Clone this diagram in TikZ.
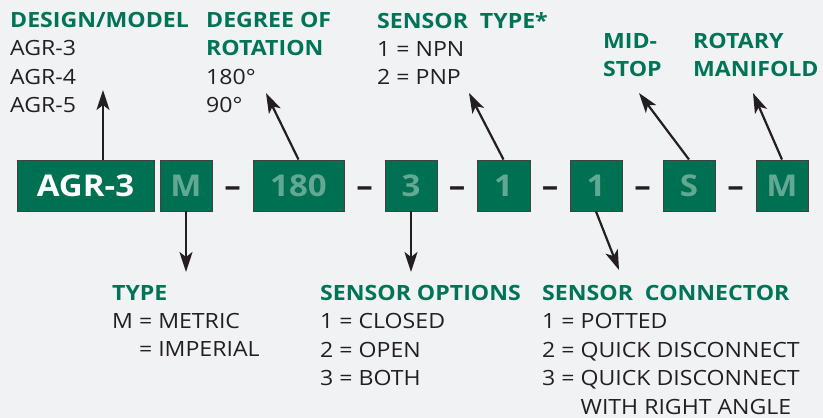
\documentclass[tikz,border=0pt]{standalone}
\usepackage{fontspec}
\setmainfont{Open Sans}[FakeStretch=1.1]
\usetikzlibrary{arrows.meta}
\definecolor{bggray}{RGB}{241,242,244}
\definecolor{agrgreen}{RGB}{0,112,82}
\definecolor{headgreen}{RGB}{0,116,86}
\definecolor{codegreen}{RGB}{98,168,148}
\definecolor{inkblack}{RGB}{35,31,32}
\begin{document}
\begin{tikzpicture}[x=1pt,y=-1pt,
  codebox/.style={draw=inkblack!85, line width=0.9pt, fill=agrgreen, minimum height=51pt,
    inner sep=0pt, text=codegreen, font=\fontsize{30}{30}\selectfont\bfseries},
  dashmark/.style={inner sep=0pt, anchor=base, text=inkblack, font=\fontsize{30}{30}\selectfont\bfseries},
  infoblock/.style={anchor=north west, inner sep=0pt, align=left, text=inkblack,
    font=\fontsize{21}{28.4}\selectfont},
  pointer/.style={-{Stealth[length=20pt, width=13pt, inset=5pt]}, line width=2.2pt, draw=inkblack}]
\useasboundingbox[fill=bggray] (0,0) rectangle (823,418);
\node[codebox, minimum width=137pt, text=white] (agr) at (85.5,185.5) {AGR-3};
\node[codebox, minimum width=52pt] (typecode) at (186,185.5) {M};
\node[codebox, minimum width=91pt] (rotcode) at (298.5,185.5) {180};
\node[codebox, minimum width=52pt] (optcode) at (411,185.5) {3};
\node[codebox, minimum width=53pt] (sensecode) at (503.5,185.5) {1};
\node[codebox, minimum width=52pt] (conncode) at (596,185.5) {1};
\node[codebox, minimum width=52pt] (stopcode) at (689,185.5) {S};
\node[codebox, minimum width=52pt] (mancode) at (782,185.5) {M};
\foreach \x/\n in {232.5/1,364.5/2,457/3,550/4,642.5/5,735.5/6}
  \node[dashmark] (dash\n) at (\x,196) {–};
\node[infoblock] (design) at (10,12)
  {{\color{headgreen}\bfseries DESIGN/MODEL}\\AGR-3\\AGR-4\\AGR-5};
\node[infoblock] (degree) at (206,12)
  {{\color{headgreen}\bfseries DEGREE OF}\\{\color{headgreen}\bfseries ROTATION}\\180°\\90°};
\node[infoblock] (sensetype) at (377,12)
  {{\color{headgreen}\bfseries SENSOR\ \ TYPE*}\\1 = NPN\\2 = PNP};
\node[infoblock, text=headgreen, font=\fontsize{21}{28.4}\selectfont\bfseries] (midstop) at (603,33)
  {MID-\\STOP};
\node[infoblock, text=headgreen, font=\fontsize{21}{28.4}\selectfont\bfseries] (manifold) at (693,33)
  {ROTARY\\MANIFOLD};
\node[infoblock] (typeinfo) at (112,285)
  {{\color{headgreen}\bfseries TYPE}\\M = METRIC\\\phantom{M} = IMPERIAL};
\node[infoblock] (options) at (320,285)
  {{\color{headgreen}\bfseries SENSOR OPTIONS}\\1 = CLOSED\\2 = OPEN\\3 = BOTH};
\node[infoblock] (connector) at (542,285)
  {{\color{headgreen}\bfseries SENSOR\ \ CONNECTOR}\\1 = POTTED\\2 = QUICK DISCONNECT\\3 = QUICK DISCONNECT\\\phantom{3 = }WITH RIGHT ANGLE};
\coordinate (designtip) at (103,90);
\coordinate (degreetip) at (266,93);
\coordinate (sensetip) at (469,93);
\coordinate (stoptip) at (639,93);
\coordinate (mantip) at (753,93);
\coordinate (typetip) at (186,272);
\coordinate (opttip) at (411,272);
\coordinate (conntip) at (619,270);
\draw[pointer] (designtip |- agr.north) -- (designtip);
\draw[pointer] (rotcode.north) -- (degreetip);
\draw[pointer] (sensecode.north) -- (sensetip);
\draw[pointer] (stopcode.north) -- (stoptip);
\draw[pointer] (mancode.north) -- (mantip);
\draw[pointer] (typecode.south) -- (typetip);
\draw[pointer] (optcode.south) -- (opttip);
\draw[pointer] (conncode.south) -- (conntip);
\end{tikzpicture}
\end{document}
